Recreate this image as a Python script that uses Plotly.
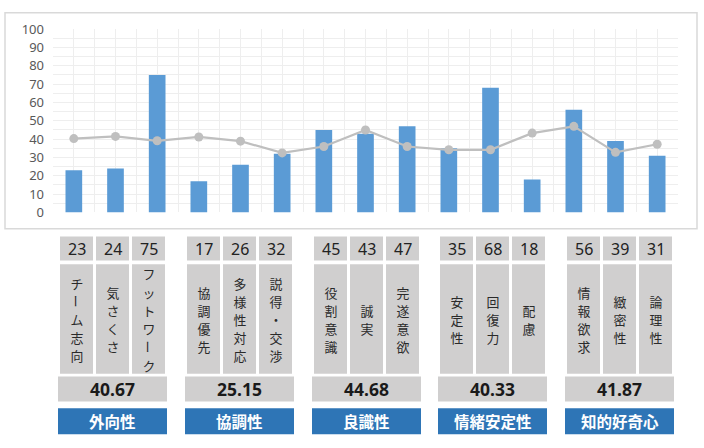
import plotly.graph_objects as go

# ---------------- data ----------------
categories = ["外向性", "協調性", "良識性", "情緒安定性", "知的好奇心"]
averages = [40.67, 25.15, 44.68, 40.33, 41.87]
items = ["チーム志向", "気さくさ", "フットワーク",
         "協調優先", "多様性対応", "説得・交渉",
         "役割意識", "誠実", "完遂意欲",
         "安定性", "回復力", "配慮",
         "情報欲求", "緻密性", "論理性"]
scores = [23, 24, 75, 17, 26, 32, 45, 43, 47, 35, 68, 18, 56, 39, 31]
line_values = [40.3, 41.5, 39.1, 41.2, 38.9, 32.5, 36.0, 45.0, 36.0, 34.2, 34.2, 43.3, 47.0, 32.8, 37.2]
y_ticks = [0, 10, 20, 30, 40, 50, 60, 70, 80, 90, 100]

W, H = 704, 448
def X(px):
    return px / W
def Y(py):
    return 1 - py / H

BAR = "#5b9bd5"
LINE = "#bfbfbf"
CELL = "#d0cfcf"
BLUE = "#2e75b6"
GRID = "#eeeeee"

xs = list(range(len(scores)))

fig = go.Figure()
fig.add_trace(go.Bar(x=xs, y=scores, marker=dict(color=BAR, line=dict(width=0)),
                     width=0.4, hoverinfo="skip"))
fig.add_trace(go.Scatter(x=xs, y=line_values, mode="lines+markers",
                         line=dict(color=LINE, width=2.2),
                         marker=dict(color=LINE, size=9), hoverinfo="skip"))

shapes = []
annotations = []

# chart frame
shapes.append(dict(type="rect", xref="paper", yref="paper",
                   x0=X(5), x1=X(697), y0=Y(229), y1=Y(4),
                   line=dict(color="#d9d9d9", width=1.5), fillcolor="rgba(0,0,0,0)", layer="below"))

group_x0 = [58, 185, 312, 438, 565]
cell_off = [2, 38, 74]
cell_w = 33
group_w = 109
NUMFONT = "Noto Sans"
CJK = "Noto Sans CJK JP"

def rect(x0, x1, y0, y1, color):
    shapes.append(dict(type="rect", xref="paper", yref="paper",
                       x0=X(x0), x1=X(x1), y0=Y(y1), y1=Y(y0),
                       line=dict(width=0), fillcolor=color))

def text(xc, yc, s, size, color, family, bold=False, angle=0, h=None):
    a = dict(xref="paper", yref="paper", x=X(xc), y=Y(yc),
             text=f"<b>{s}</b>" if bold else s, showarrow=False,
             xanchor="center", yanchor="middle", textangle=angle,
             font=dict(size=size, color=color, family=family))
    if h is not None:
        a["height"] = h
        a["width"] = h
        a["borderpad"] = 0
    annotations.append(a)

for g, cat in enumerate(categories):
    gx = group_x0[g]
    for k in range(3):
        idx = g * 3 + k
        cx0 = gx + cell_off[k]
        cx1 = cx0 + cell_w
        xc = (cx0 + cx1) / 2
        rect(cx0, cx1, 237, 262, CELL)
        text(xc, 250, str(scores[idx]), 16, "#222222", NUMFONT)
        rect(cx0, cx1, 266, 380, CELL)
        label = items[idx]
        n = len(label)
        for i, ch in enumerate(label):
            yc = 323 + (i - (n - 1) / 2) * 19
            ang = 90 if ch == "ー" else 0
            text(xc, yc, ch, 12.9, "#2a2a2a", CJK, angle=ang, h=16)
    rect(gx, gx + group_w, 383, 409, CELL)
    text(gx + group_w / 2, 396, f"{averages[g]:.2f}", 17.5, "#1a1a1a", NUMFONT, bold=True)
    rect(gx, gx + group_w, 416, 443, BLUE)
    text(gx + group_w / 2, 429.5, cat, 15.5, "#ffffff", CJK, bold=True)

fig.update_layout(
    width=W, height=H,
    margin=dict(l=0, r=0, t=0, b=0),
    paper_bgcolor="white", plot_bgcolor="white",
    showlegend=False,
    shapes=shapes, annotations=annotations,
    xaxis=dict(domain=[X(53), X(678)], range=[-0.5, len(scores) - 0.5],
               tick0=-0.5, dtick=0.5, showgrid=True, gridcolor=GRID, gridwidth=1,
               showticklabels=False, zeroline=False, showline=False, ticks=""),
    yaxis=dict(domain=[Y(212), Y(21)], range=[0, 100],
               tickvals=y_ticks, showgrid=True, gridcolor=GRID, gridwidth=1,
               minor=dict(dtick=5, showgrid=True, gridcolor=GRID, gridwidth=1),
               zeroline=False, showline=False, ticks="",
               ticklabelstandoff=8,
               tickfont=dict(size=13, color="#595959", family=NUMFONT)),
    bargap=0.6,
)

fig.write_html("out.html")
